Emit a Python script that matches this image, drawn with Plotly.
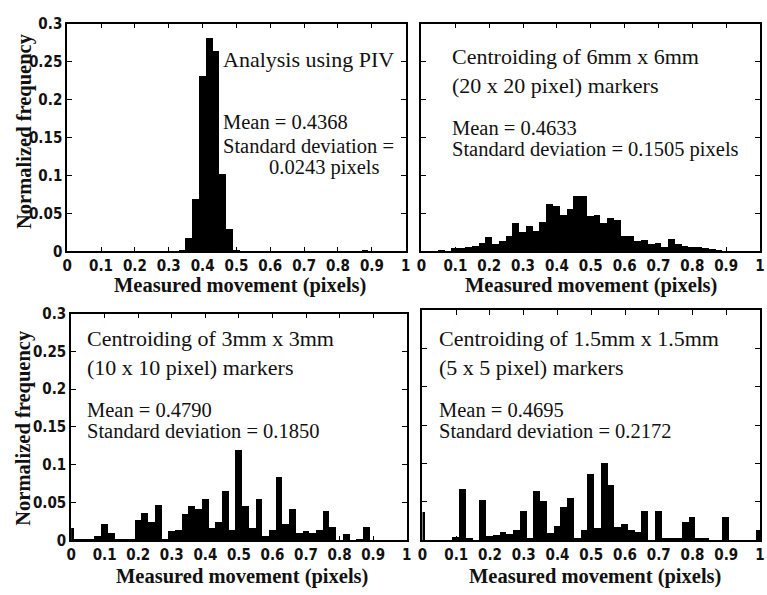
import plotly.graph_objects as go

# ---------------- data ----------------
piv_centers = [0.34, 0.36, 0.38, 0.40, 0.42, 0.44, 0.46, 0.48, 0.50, 0.88]
piv_freq = [0.003, 0.018, 0.070, 0.231, 0.282, 0.264, 0.102, 0.030, 0.003, 0.002]

bin_centers = [0.00, 0.02, 0.04, 0.06, 0.08, 0.10, 0.12, 0.14, 0.16, 0.18,
               0.20, 0.22, 0.24, 0.26, 0.28, 0.30, 0.32, 0.34, 0.36, 0.38,
               0.40, 0.42, 0.44, 0.46, 0.48, 0.50, 0.52, 0.54, 0.56, 0.58,
               0.60, 0.62, 0.64, 0.66, 0.68, 0.70, 0.72, 0.74, 0.76, 0.78,
               0.80, 0.82, 0.84, 0.86, 0.88, 0.90, 0.92, 0.94, 0.96, 0.98, 1.00]

m6_freq = [0, 0, 0, 0.002, 0, 0.005, 0.005, 0.007, 0.008, 0.012,
           0.019, 0.010, 0.015, 0.021, 0.038, 0.026, 0.034, 0.027, 0.040, 0.063,
           0.061, 0.048, 0.056, 0.074, 0.074, 0.047, 0.048, 0.038, 0.044, 0.042,
           0.021, 0.021, 0.014, 0.016, 0.010, 0.012, 0.006, 0.017, 0.010, 0.008,
           0.006, 0.006, 0.005, 0.004, 0.003, 0, 0, 0, 0, 0, 0]

m3_freq = [0.017, 0.002, 0.002, 0.002, 0.006, 0.023, 0.011, 0.003, 0.002, 0.003,
           0.028, 0.037, 0.025, 0.048, 0.002, 0.013, 0.015, 0.036, 0.046, 0.042,
           0.056, 0.017, 0.025, 0.066, 0.015, 0.120, 0.046, 0.017, 0.056, 0.006,
           0.014, 0.085, 0.023, 0.042, 0.011, 0.013, 0.011, 0.015, 0.039, 0.018,
           0.001, 0.009, 0.001, 0.003, 0.018, 0.001, 0.001, 0.001, 0.001, 0.001, 0.001]

m15_freq = [0.037, 0.001, 0.001, 0.001, 0.001, 0.005, 0.067, 0.003, 0.000, 0.053,
            0.006, 0.008, 0.012, 0.009, 0.014, 0.039, 0.004, 0.065, 0.052, 0.010,
            0.019, 0.044, 0.056, 0.003, 0.014, 0.087, 0.017, 0.101, 0.073, 0.018,
            0.022, 0.014, 0.012, 0.039, 0.001, 0.039, 0.004, 0.004, 0.003, 0.025,
            0.031, 0.004, 0.003, 0.001, 0.001, 0.031, 0.001, 0.001, 0.001, 0.001, 0.014]

x_tickvals = [0, 0.1, 0.2, 0.3, 0.4, 0.5, 0.6, 0.7, 0.8, 0.9, 1]
x_ticktext = ["0", "0.1", "0.2", "0.3", "0.4", "0.5", "0.6", "0.7", "0.8", "0.9", "1"]
y_tickvals = [0, 0.05, 0.1, 0.15, 0.2, 0.25, 0.3]
y_ticktext = ["0", "0.05", "0.1", "0.15", "0.2", "0.25", "0.3"]

BIN_W = 0.02
W, H = 767, 595

def px_x(p):
    return p / W

def px_y(p):
    return 1 - p / H

# panel geometry (pixels: left, right, top, bottom)
panels = [
    (63, 406, 15, 250),
    (422, 765, 15, 250),
    (67, 407, 314, 548),
    (423, 765, 310, 548),
]

series = [
    (piv_centers, piv_freq),
    (bin_centers, m6_freq),
    (bin_centers, m3_freq),
    (bin_centers, m15_freq),
]

fig = go.Figure()
tick_font = dict(family="Liberation Sans Narrow, Arial Narrow, DejaVu Sans Condensed, sans-serif",
                 size=15, color="#111111", weight="bold")

for i, ((xs, ys), (l, r, t, b)) in enumerate(zip(series, panels)):
    n = "" if i == 0 else str(i + 1)
    fig.add_trace(go.Bar(x=xs, y=ys, width=BIN_W, marker=dict(color="black", line=dict(width=0)),
                         xaxis="x" + n, yaxis="y" + n, showlegend=False))
    fig.layout["xaxis" + n] = dict(
        domain=[px_x(l), px_x(r)], anchor="y" + n, range=[0, 1],
        tickvals=x_tickvals, ticktext=x_ticktext, ticks="inside", ticklen=5,
        tickcolor="black", showline=True, linecolor="black", linewidth=1.8,
        mirror="ticks", showgrid=False, zeroline=False, tickfont=tick_font,
    )
    fig.layout["yaxis" + n] = dict(
        domain=[px_y(b), px_y(t)], anchor="x" + n, range=[0, 0.3],
        tickvals=y_tickvals, ticktext=y_ticktext, ticks="inside", ticklen=5,
        tickcolor="black", showline=True, linecolor="black", linewidth=1.8,
        mirror="ticks", showgrid=False, zeroline=False, tickfont=tick_font,
        showticklabels=(i % 2 == 0),
    )

serif = "Liberation Serif, Times New Roman, serif"
annotations = []

def txt(text, x, y, size, xanchor="left", bold=False, angle=0):
    annotations.append(dict(
        text=text, x=px_x(x), y=px_y(y), xref="paper", yref="paper",
        xanchor=xanchor, yanchor="middle", showarrow=False, textangle=angle,
        borderpad=0, align="left",
        font=dict(family=serif, size=size, color="#111111", weight="bold" if bold else "normal"),
    ))

# axis titles
for cx, cy in [(238, 285), (594, 285), (240, 585), (598, 585)]:
    txt("Measured movement (pixels)", cx, cy, 20.5, xanchor="center", bold=True)
for cy in [126, 432]:
    txt("Normalized frequency", 19, cy, 20.5, xanchor="center", bold=True, angle=-90)

T, S = 22, 20.5
# panel 1
txt("Analysis using PIV", 220, 52, T)
txt("Mean = 0.4368", 220, 117, S)
txt("Standard deviation =", 220, 141, S)
txt("0.0243 pixels", 266, 163, S)
# panel 2
txt("Centroiding of 6mm x 6mm<br>(20 x 20 pixel) markers", 452, 64, T)
txt("Mean = 0.4633", 452, 123, S)
txt("Standard deviation = 0.1505 pixels", 452, 145, S)
# panel 3
txt("Centroiding of 3mm x 3mm<br>(10 x 10 pixel) markers", 82, 355, T)
txt("Mean = 0.4790", 82, 413, S)
txt("Standard deviation = 0.1850", 82, 435, S)
# panel 4
txt("Centroiding of 1.5mm x 1.5mm<br>(5 x 5 pixel) markers", 439, 355, T)
txt("Mean = 0.4695", 439, 413, S)
txt("Standard deviation = 0.2172", 439, 435, S)

fig.update_layout(
    width=W, height=H, margin=dict(l=0, r=0, t=0, b=0),
    paper_bgcolor="white", plot_bgcolor="white",
    bargap=0, annotations=annotations,
)

fig.write_html("out.html")
